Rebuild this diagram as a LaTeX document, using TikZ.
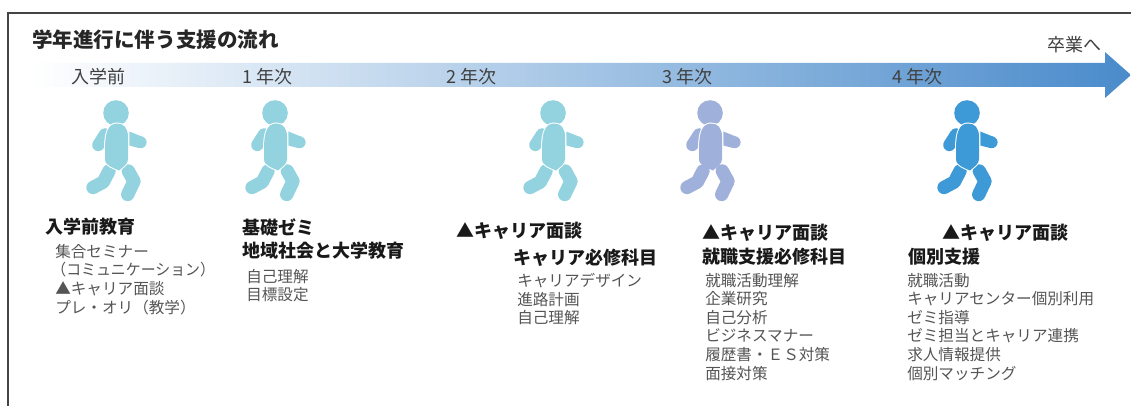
\documentclass[tikz,border=0pt]{standalone}
\usepackage{fontspec}
\usepackage{graphicx}
\setmainfont{Noto Sans CJK JP}
\definecolor{tealfig}{HTML}{92D3DF}
\definecolor{lilacfig}{HTML}{9FB1DB}
\definecolor{bluefig}{HTML}{3D9AD6}
\definecolor{framegrey}{HTML}{444444}
\definecolor{bodygrey}{HTML}{555555}
\definecolor{arrowend}{HTML}{4A8BCB}
\tikzset{
  title/.style={anchor=west,inner sep=0pt,font=\fontsize{15.4pt}{18pt}\selectfont\bfseries,text=black!85},
  year/.style={anchor=west,inner sep=0pt,font=\fontsize{13.5pt}{15pt}\selectfont,text=black!75},
  head/.style={anchor=north west,inner sep=0pt,align=left,font=\fontsize{13.5pt}{17.6pt}\selectfont\bfseries,text=black!90},
  body/.style={anchor=north west,inner sep=0pt,align=left,font=\fontsize{11.7pt}{13.9pt}\selectfont,text=bodygrey},
  limb/.style={line width=10pt,line cap=round,line join=round},
}
\newcommand{\torsopath}{(-11,36) .. controls (-11,20) and (-8,10.5) .. (1,10.5) .. controls (8,10.5) and (12,15) .. (12,24) -- (12,46) .. controls (12,51) and (8,53) .. (3,57.5) .. controls (-2,55) and (-11,53) .. (-11,46) -- cycle}
\newcommand{\walkerlegs}[1]{%
  \draw[#1,limb] (-7,58) -- (-12.7,69) -- (-23,74.5);
  \draw[#1,limb] (12.3,58) -- (18,68.3) -- (11.7,81.5);}
\newcommand{\walkerbase}[1]{%
  \fill[#1] (0,0) circle (12.8);
  \fill[#1] (13.3,18.5) -- (27,24) -- (23,35) -- (13.3,32.5) -- cycle;
  \fill[#1] (24.7,29.3) circle (5.9);
  \draw[#1,line width=9.2pt,line cap=round] (-11,21.5) -- (-17.7,32);}
\newcommand{\walker}[3]{%
  \begin{scope}[shift={(#1,#2)}]
    \walkerbase{#3}
    \walkerlegs{#3}
    \draw[white,fill=white,line width=1.5pt] \torsopath;
    \fill[#3] \torsopath;
  \end{scope}}
\newcommand{\walkermerged}[3]{%
  \begin{scope}[shift={(#1,#2)}]
    \walkerbase{#3}
    \draw[white,fill=white,line width=1.5pt] \torsopath;
    \fill[#3] \torsopath;
    \walkerlegs{#3}
  \end{scope}}
\begin{document}
\begin{tikzpicture}[x=0.75pt,y=-0.75pt]
  \useasboundingbox (0,0) rectangle (1131,406);
  \fill[white] (0,0) rectangle (1131,406);
  \draw[framegrey,line width=1.6pt] (8,406) -- (8,13) -- (1131,13);
  \shade[left color=white,right color=arrowend]
    (30,63) -- (1105,63) -- (1105,52) -- (1131,75) -- (1105,98) -- (1105,87) -- (30,87) -- cycle;
  \node[title] (ttl) at (32,40) {学年進行に伴う支援の流れ};
  \node[year] (y0) at (71,77) {入学前};
  \node[year] (y1) at (242,77) {1 年次};
  \node[year] (y2) at (446,77) {2 年次};
  \node[year] (y3) at (662,77) {3 年次};
  \node[year] (y4) at (892,77) {4 年次};
  \node[year] (grad) at (1047,45) {卒業へ};
  \walker{116}{113}{tealfig}
  \walker{275}{113}{tealfig}
  \walker{553}{113}{tealfig}
  \walkermerged{710}{113}{lilacfig}
  \walker{967}{113}{bluefig}
  \node[head] (h0) at (45,218) {入学前教育};
  \node[body] (b0) at (55,244) {集合セミナー\\\hspace*{-.25em}\scalebox{.955}[1]{（コミュニケーション）}\\▲キャリア面談\\プレ・オリ（教学）};
  \node[head] (h1) at (242,218) {基礎ゼミ\\地域社会と大学教育};
  \node[body] (b1) at (246,269) {自己理解\\目標設定};
  \node[head] (h2) at (456,222) {▲キャリア面談};
  \node[head] (h2b) at (513,249) {キャリア必修科目};
  \node[body] (b2) at (517,273) {キャリアデザイン\\進路計画\\自己理解};
  \node[head] (h3) at (702,224) {▲キャリア面談\\就職支援必修科目};
  \node[body] (b3) at (705,273) {就職活動理解\\企業研究\\自己分析\\ビジネスマナー\\履歴書・ＥＳ対策\\面接対策};
  \node[head] (h4) at (942,224) {▲キャリア面談};
  \node[head] (h4b) at (908,248) {個別支援};
  \node[body] (b4) at (907,273) {就職活動\\キャリアセンター個別利用\\ゼミ指導\\ゼミ担当とキャリア連携\\求人情報提供\\個別マッチング};
\end{tikzpicture}
\end{document}
